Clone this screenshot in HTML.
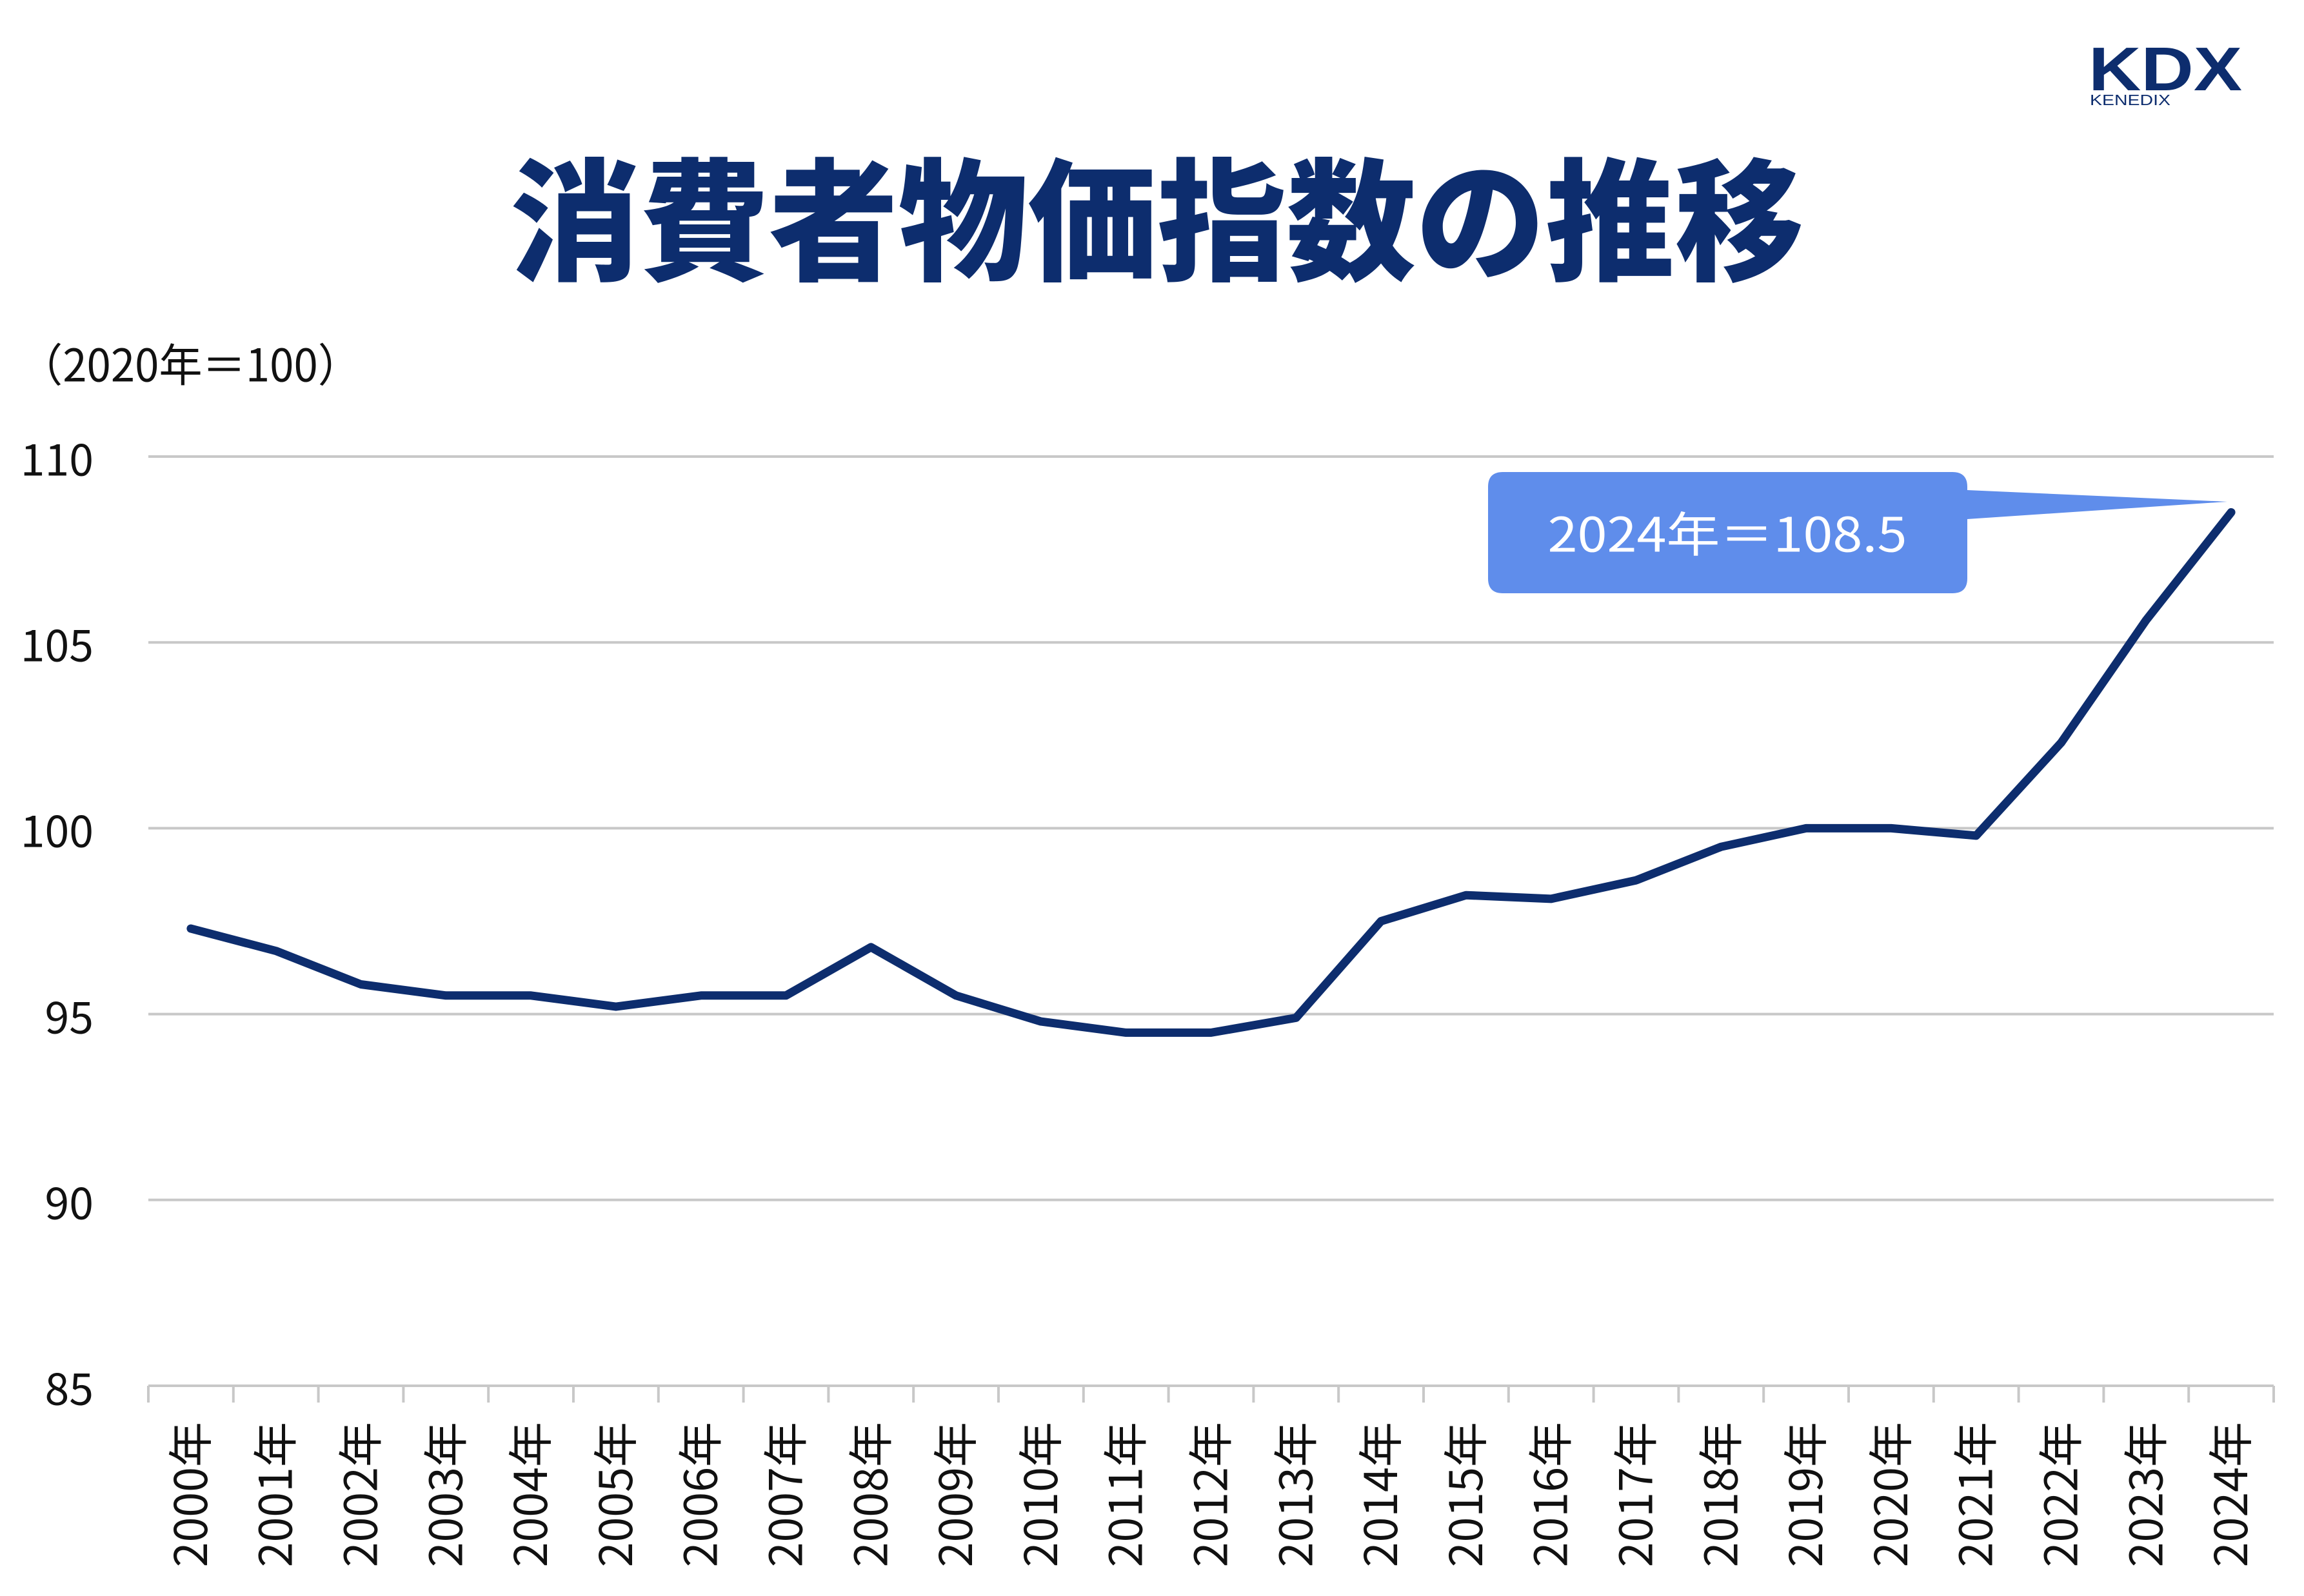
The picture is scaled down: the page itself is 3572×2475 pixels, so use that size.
<!DOCTYPE html>
<html><head><meta charset="utf-8"><style>
html,body{margin:0;padding:0;background:#fff;}
svg{display:block;}
text{font-family:"Liberation Sans","Noto Sans CJK JP",sans-serif;}
.cjk{font-family:"Noto Sans CJK JP",sans-serif;}
</style></head><body>
<svg width="3572" height="2475" viewBox="0 0 3572 2475" xmlns="http://www.w3.org/2000/svg">
<rect width="3572" height="2475" fill="#fff"/>
<text x="3238" y="140" font-size="96" font-weight="bold" fill="#0d2d6e" textLength="238" lengthAdjust="spacingAndGlyphs">KDX</text>
<text x="3240" y="163" font-size="23" fill="#0d2d6e" textLength="125" lengthAdjust="spacingAndGlyphs">KENEDIX</text>
<text class="cjk" x="1794" y="330" font-size="205" font-weight="900" fill="#0d2d6e" text-anchor="middle" dominant-baseline="central" textLength="2006" lengthAdjust="spacingAndGlyphs">消費者物価指数の推移</text>
<text class="cjk" x="30" y="562" font-size="70" fill="#111" dominant-baseline="central" textLength="530" lengthAdjust="spacingAndGlyphs">（2020年＝100）</text>
<g stroke="#c8c8c8" stroke-width="4">
<line x1="230" x2="3525" y1="708" y2="708"/>
<line x1="230" x2="3525" y1="996.2" y2="996.2"/>
<line x1="230" x2="3525" y1="1284.4" y2="1284.4"/>
<line x1="230" x2="3525" y1="1572.6" y2="1572.6"/>
<line x1="230" x2="3525" y1="1860.8" y2="1860.8"/>
<line x1="230" x2="3525" y1="2149" y2="2149"/>
</g>
<g stroke="#c8c8c8" stroke-width="4" id="ticks"></g>
<g class="cjk" font-size="68" fill="#111" text-anchor="end" dominant-baseline="central">
<text class="cjk" x="145" y="708">110</text>
<text class="cjk" x="145" y="996">105</text>
<text class="cjk" x="145" y="1284">100</text>
<text class="cjk" x="145" y="1573">95</text>
<text class="cjk" x="145" y="1861">90</text>
<text class="cjk" x="145" y="2149">85</text>
</g>
<g id="xl" class="cjk" font-size="70" fill="#111"></g>
<path d="M2330 732 H3027 Q3050 732 3050 755 V760 L3453 778 L3050 805 V897 Q3050 920 3027 920 H2330 Q2307 920 2307 897 V755 Q2307 732 2330 732 Z" fill="#5f8deb"/>
<text class="cjk" x="2678" y="824" font-size="74" fill="#fff" text-anchor="middle" dominant-baseline="central" textLength="557" lengthAdjust="spacingAndGlyphs">2024年＝108.5</text>
<polyline id="ln" fill="none" stroke="#0d2d6e" stroke-width="13" stroke-linejoin="round" stroke-linecap="round" points=""/>
</svg>
<script>
var d=[97.3,96.7,95.8,95.5,95.5,95.2,95.5,95.5,96.8,95.5,94.8,94.5,94.5,94.9,97.5,98.2,98.1,98.6,99.5,100,100,99.8,102.3,105.6,108.5];
var x0=230,w=(3525-230)/25,ns="http://www.w3.org/2000/svg";
function Y(v){return 2149-(v-85)*(2149-708)/25;}
var p=[];
for(var i=0;i<25;i++){p.push((x0+w*(i+0.5)).toFixed(1)+","+Y(d[i]).toFixed(1));}
document.getElementById("ln").setAttribute("points",p.join(" "));
var t=document.getElementById("ticks");
for(var i=0;i<=25;i++){var l=document.createElementNS(ns,"line");var x=x0+w*i;l.setAttribute("x1",x);l.setAttribute("x2",x);l.setAttribute("y1",2149);l.setAttribute("y2",2175);t.appendChild(l);}
var g=document.getElementById("xl");
for(var i=0;i<25;i++){var e=document.createElementNS(ns,"text");var cx=x0+w*(i+0.5);
e.setAttribute("transform","translate("+(cx+25)+",2205) rotate(-90)");e.setAttribute("text-anchor","end");e.setAttribute("class","cjk");e.textContent=(2000+i)+"年";g.appendChild(e);}
</script>
</body></html>
